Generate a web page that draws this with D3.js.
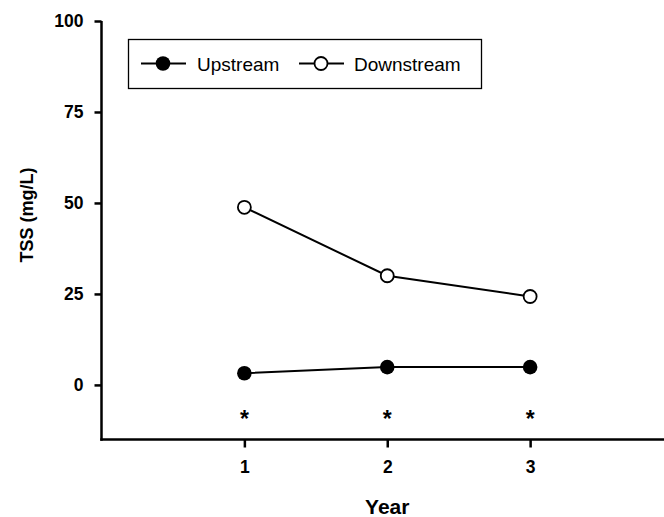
<!DOCTYPE html>
<html><head><meta charset="utf-8">
<script src="https://cdn.jsdelivr.net/npm/d3@7"></script>
<style>body{margin:0;background:#fff}svg{display:block}text{font-family:"Liberation Sans",Arial,sans-serif}</style>
</head><body><svg id="c" width="664" height="517"></svg>
<script>
const years = [1, 2, 3];
const upstream = [3.2, 4.9, 4.9];
const downstream = [48.8, 30.0, 24.3];
const yTicks = [0, 25, 50, 75, 100];
const xTicks = [1, 2, 3];
const sigMarks = ["*", "*", "*"];

const svg = d3.select("#c");
const x = d3.scaleLinear().domain([0, 4]).range([101.5, 673]);
const y = d3.scaleLinear().domain([-15, 100]).range([439.5, 21]);

// axes
const yAxis = svg.append("g").attr("transform", `translate(${x(0)},0)`)
  .call(d3.axisLeft(y).tickValues(yTicks).tickFormat(d3.format("d")).tickSize(7).tickPadding(11).tickSizeOuter(0));
const xAxis = svg.append("g").attr("transform", `translate(0,${y(-15)})`)
  .call(d3.axisBottom(x).tickValues(xTicks).tickFormat(d3.format("d")).tickSize(8).tickPadding(13).tickSizeOuter(0));
[yAxis, xAxis].forEach(g => {
  g.attr("font-size", null).attr("font-family", null);
  g.select(".domain").attr("stroke", "#000").attr("stroke-width", 2.5);
  g.selectAll(".tick line").attr("stroke", "#000").attr("stroke-width", 2.5);
  g.selectAll(".tick text").attr("fill", "#000").attr("font-size", 17.5).attr("font-weight", "bold");
});
yAxis.select(".domain").attr("d", `M0,${y(-15)+1.25}V${y(100)}`);
xAxis.select(".domain").attr("d", `M${x(0)-1.25},0H${x(4)}`);

// lines
const line = d3.line().x((d, i) => x(years[i])).y(d => y(d));
svg.append("path").attr("d", line(downstream)).attr("fill", "none").attr("stroke", "#000").attr("stroke-width", 2);
svg.append("path").attr("d", line(upstream)).attr("fill", "none").attr("stroke", "#000").attr("stroke-width", 2);

svg.selectAll(".dn").data(downstream).enter().append("circle")
  .attr("cx", (d, i) => x(years[i])).attr("cy", d => y(d)).attr("r", 6.5)
  .attr("fill", "#fff").attr("stroke", "#000").attr("stroke-width", 1.8);
svg.selectAll(".up").data(upstream).enter().append("circle")
  .attr("cx", (d, i) => x(years[i])).attr("cy", d => y(d)).attr("r", 7.3)
  .attr("fill", "#000");

// significance asterisks
svg.selectAll(".sig").data(sigMarks).enter().append("text")
  .attr("x", (d, i) => x(years[i])).attr("y", y(-8.5) + 11)
  .attr("text-anchor", "middle").attr("font-size", 23).attr("font-weight", "bold").text(d => d);

// axis titles
svg.append("text").attr("transform", `translate(33,215) rotate(-90)`).attr("text-anchor", "middle")
  .attr("font-size", 18).attr("font-weight", "bold").text("TSS (mg/L)");
svg.append("text").attr("x", x(2)).attr("y", 514).attr("text-anchor", "middle")
  .attr("font-size", 21).attr("font-weight", "bold").text("Year");

// legend
const lg = svg.append("g");
lg.append("rect").attr("x", 128.5).attr("y", 39.5).attr("width", 353).attr("height", 49)
  .attr("fill", "#fff").attr("stroke", "#000").attr("stroke-width", 1.3);
const ly = 63.5;
lg.append("line").attr("x1", 141).attr("x2", 186).attr("y1", ly).attr("y2", ly).attr("stroke", "#000").attr("stroke-width", 2);
lg.append("circle").attr("cx", 163).attr("cy", ly).attr("r", 7.3).attr("fill", "#000");
lg.append("text").attr("x", 197).attr("y", ly + 7).attr("font-size", 19).text("Upstream");
lg.append("line").attr("x1", 299).attr("x2", 344).attr("y1", ly).attr("y2", ly).attr("stroke", "#000").attr("stroke-width", 2);
lg.append("circle").attr("cx", 321).attr("cy", ly).attr("r", 6.5).attr("fill", "#fff").attr("stroke", "#000").attr("stroke-width", 1.8);
lg.append("text").attr("x", 354).attr("y", ly + 7).attr("font-size", 19).text("Downstream");
</script></body></html>
